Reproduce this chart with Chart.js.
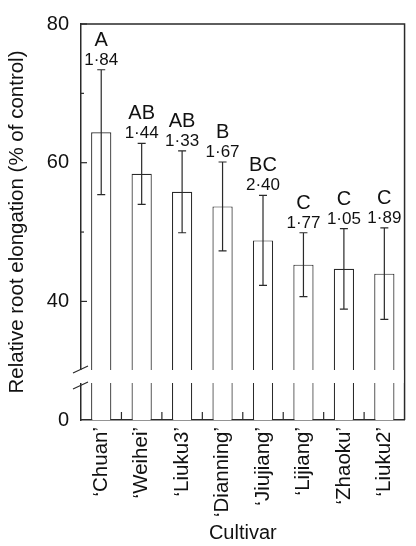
<!DOCTYPE html>
<html>
<head>
<meta charset="utf-8">
<script src="https://cdn.jsdelivr.net/npm/chart.js@4"></script>
<style>
  body { margin: 0; background: #fff; }
  canvas { display: block; }
</style>
</head>
<body>
<canvas id="rootChart" width="416" height="546"></canvas>
<script>
// Chart data
const cultivars = ['\u2018Chuan\u2019', '\u2018Weihei\u2019', '\u2018Liuku3\u2019', '\u2018Dianning\u2019',
  '\u2018Jiujiang\u2019', '\u2018Lijiang\u2019', '\u2018Zhaoku\u2019', '\u2018Liuku2\u2019'];
const means = [64.4, 58.4, 55.8, 53.7, 48.8, 45.3, 44.7, 44.0];
const errors = [9.0, 4.4, 5.9, 6.4, 6.5, 4.6, 5.8, 6.6];
const letters = ['A', 'AB', 'AB', 'B', 'BC', 'C', 'C', 'C'];
const ratios = ['1\u00b784', '1\u00b744', '1\u00b733', '1\u00b767', '2\u00b740', '1\u00b777', '1\u00b705', '1\u00b789'];
const yTicks = [40, 50, 60, 70, 80];
const yLabelled = [40, 60, 80];
const axisBottom = 22.9;   // value at the bottom of the broken axis, shown as 0

const font = 'Liberation Sans, Arial, Helvetica, sans-serif';
const ink = '#2a2a2a';

// error bars, labels, frame and inward ticks
const decorations = {
  id: 'decorations',
  afterDatasetsDraw(chart) {
    const ctx = chart.ctx;
    const x = chart.scales.x, y = chart.scales.y;
    const area = chart.chartArea;
    ctx.save();
    ctx.strokeStyle = ink;
    ctx.lineWidth = 1.2;
    means.forEach((m, i) => {
      const cx = x.getPixelForValue(i);
      const top = y.getPixelForValue(m + errors[i]);
      const bot = y.getPixelForValue(m - errors[i]);
      ctx.beginPath();
      ctx.moveTo(cx, top); ctx.lineTo(cx, bot);
      ctx.moveTo(cx - 4, top); ctx.lineTo(cx + 4, top);
      ctx.moveTo(cx - 4, bot); ctx.lineTo(cx + 4, bot);
      ctx.stroke();

      ctx.fillStyle = '#111';
      ctx.textAlign = 'center';
      ctx.textBaseline = 'alphabetic';
      ctx.font = '17px ' + font;
      ctx.fillText(ratios[i], cx, top - 5);
      ctx.font = '20px ' + font;
      ctx.fillText(letters[i], cx, top - 24);
    });

    // frame top and right
    ctx.lineWidth = 1.5;
    ctx.beginPath();
    ctx.moveTo(area.left, area.top); ctx.lineTo(area.right, area.top);
    ctx.lineTo(area.right, area.bottom);
    ctx.stroke();

    // y ticks, pointing inward
    ctx.lineWidth = 1.2;
    yTicks.forEach(v => {
      const py = y.getPixelForValue(v);
      const len = yLabelled.includes(v) ? 6 : 3;
      ctx.beginPath();
      ctx.moveTo(area.left, py); ctx.lineTo(area.left + len, py);
      ctx.stroke();
    });
    // x ticks between categories, pointing inward
    for (let i = 1; i < cultivars.length; i++) {
      const px = (x.getPixelForValue(i - 1) + x.getPixelForValue(i)) / 2;
      ctx.beginPath();
      ctx.moveTo(px, area.bottom); ctx.lineTo(px, area.bottom - 8);
      ctx.stroke();
    }
    ctx.restore();
  },
  afterDraw(chart) {
    const ctx = chart.ctx;
    const area = chart.chartArea;
    const g1 = 370, g2 = 383;
    ctx.save();
    ctx.fillStyle = '#fff';
    ctx.fillRect(area.left - 3, g1, area.right - area.left + 2, g2 - g1);
    ctx.strokeStyle = ink;
    ctx.lineWidth = 1.2;
    ctx.beginPath();
    ctx.moveTo(area.left - 8, g1 + 3); ctx.lineTo(area.left + 7, g1 - 4);
    ctx.moveTo(area.left - 8, g2 + 6); ctx.lineTo(area.left + 7, g2 - 1);
    ctx.stroke();
    ctx.restore();
  }
};

new Chart(document.getElementById('rootChart').getContext('2d'), {
  type: 'bar',
  data: {
    labels: cultivars,
    datasets: [{
      data: means,
      backgroundColor: '#ffffff',
      borderColor: ink,
      borderWidth: 1.2,
      borderSkipped: false,
      categoryPercentage: 1,
      barPercentage: 0.5
    }]
  },
  options: {
    responsive: false,
    animation: false,
    devicePixelRatio: 1,
    layout: { padding: { top: 16, right: 1, left: 0, bottom: 0 } },
    plugins: { legend: { display: false }, tooltip: { enabled: false } },
    scales: {
      x: {
        grid: { display: false, drawTicks: false },
        border: { display: true, color: ink, width: 1.5 },
        ticks: {
          color: '#111', font: { family: font, size: 20.5 },
          minRotation: 90, maxRotation: 90, padding: 7, autoSkip: false
        },
        title: { display: true, text: 'Cultivar', color: '#111', font: { family: font, size: 20 }, padding: { top: 0, bottom: 1 } },
        afterFit(s) { s.height = 126; }
      },
      y: {
        min: axisBottom,
        max: 80,
        grid: { display: false, drawTicks: false },
        border: { display: true, color: ink, width: 1.5 },
        afterBuildTicks(s) {
          s.ticks = [axisBottom].concat(yTicks).map(v => ({ value: v }));
        },
        ticks: {
          color: '#111', font: { family: font, size: 20 }, padding: 12,
          callback(v) {
            if (v === axisBottom) return '0';
            return yLabelled.includes(v) ? String(v) : '';
          }
        },
        title: { display: true, text: 'Relative root elongation (% of control)', color: '#111', font: { family: font, size: 20.5 }, padding: { top: 5, bottom: 0 } },
        afterFit(s) { s.width = 81; }
      }
    }
  },
  plugins: [decorations]
});
</script>
</body>
</html>
